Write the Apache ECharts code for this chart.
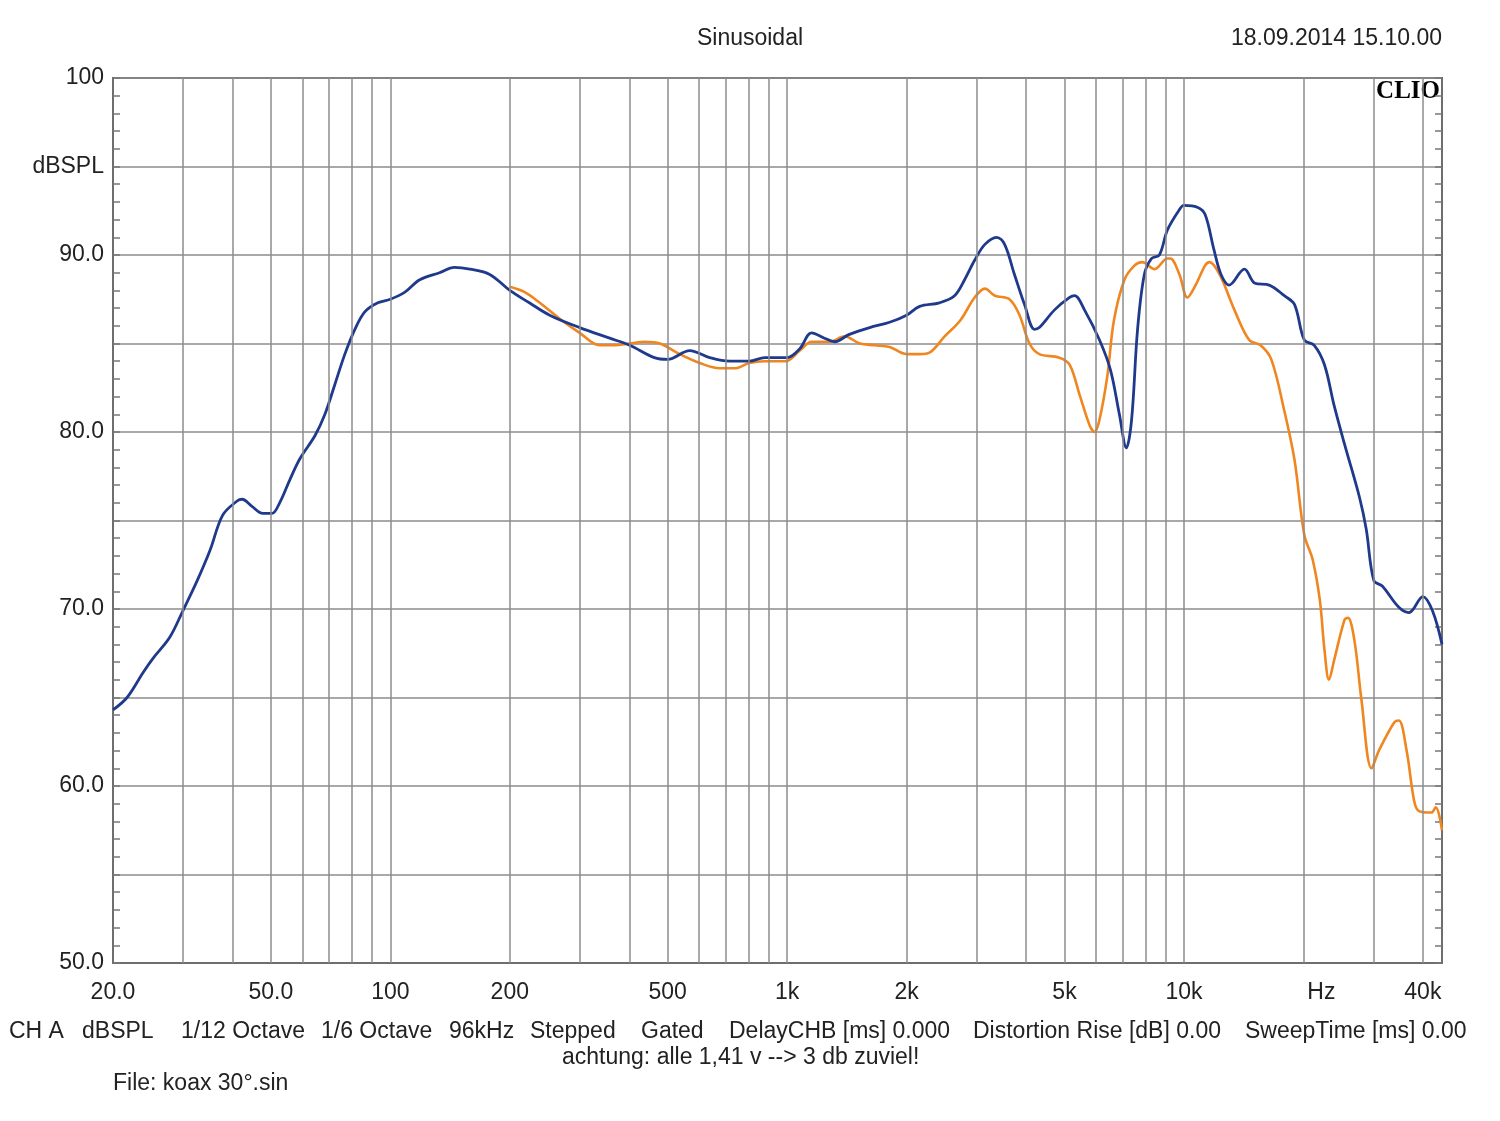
<!DOCTYPE html>
<html><head><meta charset="utf-8">
<script src="https://cdn.jsdelivr.net/npm/echarts@6/dist/echarts.min.js"></script>
<style>html,body{margin:0;padding:0;background:#fff}#c{width:1500px;height:1121px}</style>
</head><body><div id="c"></div>
<script>
const blueFreq = [20,21.7,23.8,25.2,27.8,30,32.6,35.1,37.8,41.1,42.3,44.8,47.7,50.3,52.6,55.8,59.2,64.6,68.4,72.5,76.8,81.4,86.3,93,100,108.8,118.6,133,145,158.6,178,200,224,252,300,357,401,463,500,568,638,716,803,878,1000,1076,1152,1242,1318,1430,1614,1812,2000,2158,2421,2642,2800,2968,3150,3373,3532,3740,3965,4200,4320,4720,5150,5300,5614,6126,6530,6874,7160,7380,7640,7946,8280,8670,9080,9700,10000,10800,11300,11900,12400,13000,14200,15100,16400,17900,19000,20100,21300,22600,23900,25400,27700,28800,30100,31600,34800,36900,40000,42300,44700];
const blueDb = [64.3,65.0,66.4,67.2,68.4,69.9,71.6,73.3,75.3,76.1,76.2,75.8,75.4,75.4,76.0,77.3,78.5,79.8,81.0,82.7,84.4,85.8,86.8,87.3,87.5,87.9,88.6,89.0,89.3,89.2,88.9,88.0,87.3,86.6,85.9,85.3,84.9,84.2,84.1,84.6,84.2,84.0,84.0,84.2,84.2,84.7,85.6,85.3,85.1,85.5,85.9,86.2,86.6,87.1,87.3,87.7,88.6,89.7,90.6,91.0,90.6,88.9,87.2,85.8,85.9,86.9,87.6,87.7,86.9,85.2,83.5,81.0,79.1,80.7,85.8,88.9,89.8,90.0,91.4,92.5,92.8,92.7,92.3,90.3,88.9,88.3,89.2,88.4,88.3,87.7,87.2,85.2,84.9,83.8,81.5,79.3,76.3,74.5,71.6,71.3,70.1,69.8,70.7,69.9,68.0];
const orangeFreq = [200,218,238,267,300,337,367,401,438,478,536,602,676,737,803,878,990,1076,1152,1278,1396,1524,1665,1812,2000,2158,2290,2494,2730,2968,3150,3340,3632,3852,4080,4320,4854,5150,5458,5780,5950,6126,6414,6660,7080,7500,7850,8434,9080,9240,9740,10200,10700,11300,11600,12300,13400,14600,15600,16600,17900,19000,20100,21100,22000,22600,23200,23900,25400,25900,26900,28000,29700,31000,33900,34800,36400,38000,39000,42000,43100,44700];
const orangeDb = [88.2,87.9,87.3,86.4,85.6,84.9,84.9,85.0,85.1,85.0,84.4,83.9,83.6,83.6,83.9,84.0,84.0,84.6,85.1,85.1,85.4,85.0,84.9,84.8,84.4,84.4,84.5,85.4,86.3,87.6,88.1,87.7,87.5,86.6,85.0,84.4,84.2,83.8,82.1,80.4,80.0,80.7,83.2,86.3,88.6,89.4,89.6,89.2,89.8,89.8,88.9,87.6,88.3,89.4,89.6,88.9,86.9,85.2,84.9,84.1,81.2,78.4,74.2,72.8,70.5,67.7,66.0,67.1,69.4,69.5,68.2,64.9,61.0,62.0,63.6,63.7,62.0,59.2,58.6,58.5,58.8,57.5];
const gridFreqs = [30,40,50,60,70,80,90,100,200,300,400,500,600,700,800,900,1000,2000,3000,4000,5000,6000,7000,8000,9000,10000,20000,30000,40000];
const xTickValues = [20,50,100,200,500,1000,2000,5000,10000,20000,40000];
const xTickLabels = ['20.0','50.0','100','200','500','1k','2k','5k','10k','Hz','40k'];
const bottomItems = [['CH A',9],['dBSPL',82],['1/12 Octave',181],['1/6 Octave',321],['96kHz',449],['Stepped',530],['Gated',641],['DelayCHB [ms] 0.000',729],['Distortion Rise [dB] 0.00',973],['SweepTime [ms] 0.00',1245]];

const FONT = '"Liberation Sans", Arial, sans-serif';
const TXT = '#222';
const chart = echarts.init(document.getElementById('c'), null, {renderer:'canvas'});
const pair = (f, d) => f.map((v, i) => [v, d[i]]);
const yAxisBase = {
  type: 'value', min: 50, max: 100, interval: 5,
  axisLine: {show: true, lineStyle: {color: '#6e6e6e', width: 2}},
  axisTick: {show: true, inside: true, length: 7, lineStyle: {color: '#777', width: 1.5}},
  minorTick: {show: true, splitNumber: 5, length: 7, lineStyle: {color: '#777', width: 1.5}},
  splitLine: {show: true, lineStyle: {color: '#8c8c8c', width: 1.5}}
};
const graphics = [
  {type:'text', left: 'center', top: 27, style:{text:'Sinusoidal', font:'23px '+FONT, fill:TXT}},
  {type:'text', right: 58, top: 27, style:{text:'18.09.2014 15.10.00', font:'23px '+FONT, fill:TXT}},
  {type:'text', right: 60, top: 79, style:{text:'CLIO', font:'bold 25px "Liberation Serif", "DejaVu Serif", serif', fill:'#000'}},
  {type:'text', left: 562, top: 1046, style:{text:'achtung: alle 1,41 v --> 3 db zuviel!', font:'23px '+FONT, fill:TXT}},
  {type:'text', left: 113, top: 1072, style:{text:'File: koax 30°.sin', font:'23px '+FONT, fill:TXT}}
];
bottomItems.forEach(([t, x]) => graphics.push({type:'text', left: x, top: 1020, style:{text:t, font:'23px '+FONT, fill:TXT}}));

chart.setOption({
  animation: false,
  backgroundColor: '#fff',
  grid: {left: 113, right: 58, top: 78, bottom: 158, show: true, borderColor: '#6e6e6e', borderWidth: 2, backgroundColor: 'transparent'},
  xAxis: {
    type: 'log', logBase: 10, min: 20, max: 44700,
    axisLine: {show: true, onZero: false, lineStyle: {color: '#6e6e6e', width: 2}},
    axisTick: {show: false},
    splitLine: {show: false},
    minorSplitLine: {show: false},
    axisLabel: {
      customValues: xTickValues, margin: 18, color: TXT, fontSize: 23, fontFamily: FONT,
      formatter: v => { const i = xTickValues.findIndex(t => Math.abs(t - v) / t < 1e-6); const s = i >= 0 ? xTickLabels[i] : ''; return s === 'Hz' ? '{hz|Hz}' : s; },
      rich: {hz: {fontSize: 23, fontFamily: FONT, color: TXT, padding: [0, 0, 0, 36]}},
      showMinLabel: true, showMaxLabel: true
    }
  },
  yAxis: [
    Object.assign({}, yAxisBase, {
      position: 'left',
      axisLabel: {margin: 9, color: TXT, fontSize: 23, fontFamily: FONT,
        formatter: v => v === 100 ? '100' : (v === 95 ? 'dBSPL' : (v % 10 === 0 ? v.toFixed(1) : ''))}
    }),
    Object.assign({}, yAxisBase, {position: 'right', axisLabel: {show: false}, splitLine: {show: false}})
  ],
  graphic: graphics,
  series: [
    {type: 'line', name: 'grid', data: [], silent: true,
      markLine: {silent: true, symbol: 'none', animation: false, label: {show: false},
        lineStyle: {color: '#8c8c8c', width: 1.5, type: 'solid'},
        data: gridFreqs.map(f => ({xAxis: f}))}},
    {type: 'line', name: 'orange', data: pair(orangeFreq, orangeDb), showSymbol: false, smooth: 0.35,
      lineStyle: {color: '#f0861f', width: 2.6}, z: 3},
    {type: 'line', name: 'blue', data: pair(blueFreq, blueDb), showSymbol: false, smooth: 0.35,
      lineStyle: {color: '#1f3a8c', width: 2.8}, z: 4}
  ]
});
</script></body></html>
